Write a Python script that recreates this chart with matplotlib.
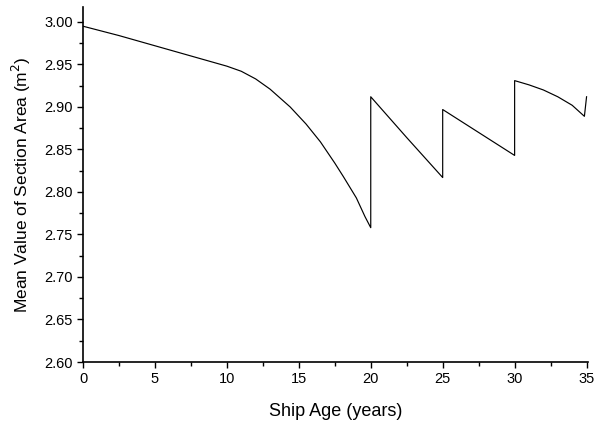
import matplotlib
matplotlib.use('Agg')
import matplotlib.pyplot as plt
from matplotlib.ticker import MultipleLocator

plt.rcParams['font.family'] = ['Liberation Sans', 'DejaVu Sans']

# ship age (years) and mean section area (m^2), jumps at repair years
age = [0, 2.5, 5, 7.5, 10, 11, 12, 13, 14.4, 15.5, 16.5, 17.5, 18.1, 19, 19.6, 20,
       20, 22.5, 25,
       25, 27.5, 30,
       30, 31, 32, 33, 34, 34.85,
       35]
area = [2.995, 2.984, 2.972, 2.960, 2.948, 2.942, 2.933, 2.921, 2.900, 2.880, 2.859, 2.834, 2.818, 2.793, 2.771, 2.758,
        2.912, 2.864, 2.817,
        2.897, 2.870, 2.843,
        2.931, 2.926, 2.920, 2.912, 2.902, 2.889,
        2.912]

fig = plt.figure(figsize=(5.94, 4.26), dpi=100)
ax = fig.add_axes([83 / 594, 1 - 362 / 426, (588 - 83) / 594, (362 - 7) / 426])

ax.plot(age, area, color='black', linewidth=0.85)

ax.set_xlim(0, 35.1)
ax.set_ylim(2.60, 3.0176)
ax.xaxis.set_major_locator(MultipleLocator(5))
ax.xaxis.set_minor_locator(MultipleLocator(2.5))
ax.yaxis.set_major_locator(MultipleLocator(0.05))
ax.yaxis.set_minor_locator(MultipleLocator(0.025))
ax.yaxis.set_major_formatter(plt.FormatStrFormatter('%.2f'))

ax.spines['top'].set_visible(False)
ax.spines['right'].set_visible(False)
ax.spines['left'].set_linewidth(1.2)
ax.spines['bottom'].set_linewidth(1.2)
ax.tick_params(which='major', direction='out', length=4.3, width=1.0, labelsize=10.5, pad=3)
ax.tick_params(which='minor', direction='out', length=2.8, width=1.0)

ax.set_xlabel('Ship Age (years)', fontsize=13, labelpad=12)
ax.set_ylabel('Mean Value of Section Area (m$^2$)', fontsize=12.5, labelpad=8)

fig.savefig('out.png', dpi=100)
